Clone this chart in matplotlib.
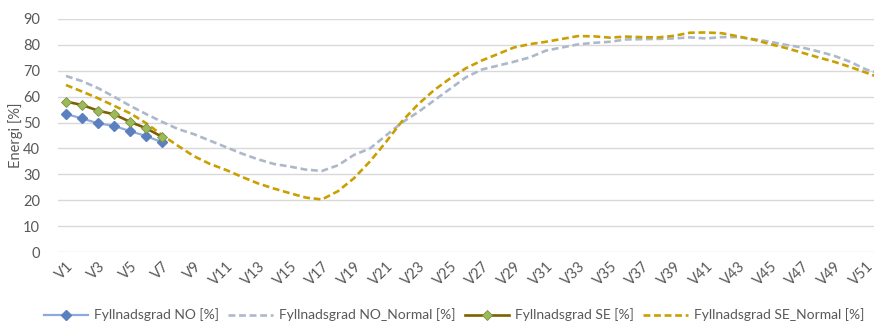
import matplotlib
matplotlib.use("Agg")
import matplotlib.pyplot as plt
import numpy as np

plt.rcParams["font.family"] = ["Lato", "DejaVu Sans"]

# Weeks V1..V52
weeks = ["V%d" % i for i in range(1, 53)]

# Actual filling degree (first weeks only)
no_actual = [53.3, 51.6, 49.7, 48.7, 46.7, 44.8, 42.4]
se_actual = [58.1, 56.8, 54.6, 53.2, 50.3, 47.8, 44.5]

# Normal filling degree
no_normal = [68, 66, 63.3, 60, 56.5, 53.3, 50.3, 47.5, 45.5, 43,
             40.5, 38, 35.8, 34, 33, 31.8, 31.3, 33.5, 37.5, 40,
             45, 50, 54, 58.5, 63, 67.5, 70.5, 72, 73.5, 75.2,
             77.8, 79, 80.2, 80.8, 81.2, 82.1, 82.2, 82.3, 82.5, 82.9,
             82.5, 83, 83, 82.2, 81.2, 80, 79, 77.5, 75.8, 73.5,
             70.5, 68.8]
se_normal = [64.5, 62, 59.4, 56.5, 53.6, 49.8, 45.2, 41, 37, 34,
             31.7, 29, 26.5, 24.5, 22.7, 21, 20.3, 23.5, 28.5, 35,
             42.5, 50.5, 57, 62.5, 67, 71, 74, 76.5, 79, 80.3,
             81.2, 82.3, 83.4, 83.3, 82.8, 83.2, 83, 82.9, 83.5, 84.7,
             84.8, 84.5, 83.3, 82, 80.3, 78.8, 77, 75.2, 73.5, 71.5,
             69.3, 67]

labels = ["Fyllnadsgrad NO [%]", "Fyllnadsgrad NO_Normal [%]",
          "Fyllnadsgrad SE [%]", "Fyllnadsgrad SE_Normal [%]"]

text_col = "#595959"
grid_col = "#D9D9D9"

fig = plt.figure(figsize=(8.74, 3.25), dpi=100)
ax = fig.add_axes([58 / 874, 1 - 252 / 325, 832 / 874, 233 / 325])

x = np.arange(len(weeks))
dash = (0, (2.6, 1.4))

l1, = ax.plot(x[:len(no_actual)], no_actual, color="#8EA9DB", lw=1.6,
              marker="D", ms=5, mfc="#5B7FBF", mec="#5B7FBF", zorder=4)
l2, = ax.plot(x, no_normal, color="#ADB9CA", lw=1.9, linestyle=dash, zorder=2)
l3, = ax.plot(x[:len(se_actual)], se_actual, color="#7F6000", lw=1.9,
              marker="D", ms=5, mfc="#9BBB59", mec="#7F8F3F", mew=0.6, zorder=5)
l4, = ax.plot(x, se_normal, color="#C9A000", lw=1.9, linestyle=dash, zorder=3)

ax.set_xlim(-0.5, len(weeks) - 0.5)
ax.set_ylim(0, 90)
ax.set_yticks(np.arange(0, 91, 10))
ax.set_xticks(x[::2])
ax.set_xticklabels(weeks[::2], rotation=45, ha="right", va="top",
                   rotation_mode="anchor")
ax.tick_params(axis="both", length=0, colors=text_col, labelsize=10.5)
ax.tick_params(axis="y", pad=13)
ax.tick_params(axis="x", pad=5)
ax.grid(axis="y", color=grid_col, lw=1)
ax.set_axisbelow(True)
for s in ax.spines.values():
    s.set_visible(False)

ax.set_ylabel("Energi [%]", color=text_col, fontsize=10.5)
ax.yaxis.set_label_coords(-35 / 832, 0.5)

leg = fig.legend([l1, l2, l3, l4], labels, loc="center",
                 bbox_to_anchor=(454 / 874, 1 - 315 / 325), ncol=4,
                 frameon=False, fontsize=10, handlelength=3.2,
                 columnspacing=0.65, handletextpad=0.45)
for t in leg.get_texts():
    t.set_color(text_col)

fig.savefig("out.png", dpi=100)
